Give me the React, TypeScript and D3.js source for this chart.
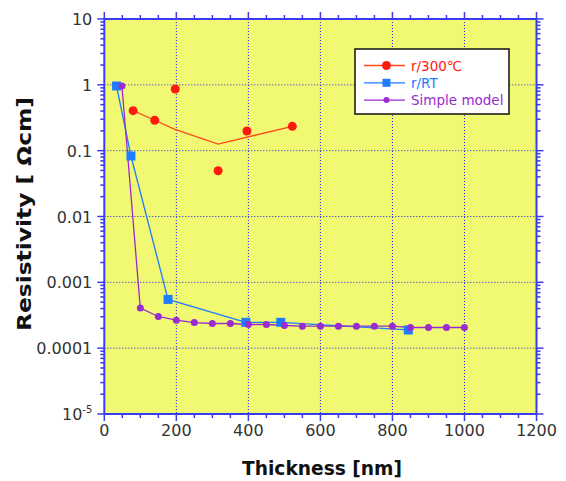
import React from "react";
import * as d3 from "d3";

const redPoints: [number, number][] = [
  [80, 0.405], [140, 0.29], [197, 0.865], [316, 0.0496], [396, 0.199], [522, 0.234],
];
const redFit: [number, number][] = [
  [80, 0.405], [140, 0.29], [196, 0.211], [316, 0.126], [522, 0.234],
];
const bluePoints: [number, number][] = [
  [34, 0.96], [74, 0.083], [177, 0.00055], [393, 0.000247], [490, 0.000247], [844, 0.000189],
];
const purplePoints: [number, number][] = [
  [49, 0.96], [100, 0.000406], [150, 0.000303], [200, 0.000266], [250, 0.000245],
  [300, 0.000237], [350, 0.000237], [400, 0.000229], [450, 0.000229], [500, 0.000221],
  [550, 0.000216], [600, 0.000216], [650, 0.000216], [700, 0.000216], [750, 0.000216],
  [800, 0.000216], [850, 0.000206], [900, 0.000206], [950, 0.000206], [1000, 0.000206],
];
const xTicks = [0, 200, 400, 600, 800, 1000, 1200];
const yTicks = [10, 1, 0.1, 0.01, 0.001, 0.0001, 0.00001];
const yTickLabels = ["10", "1", "0.1", "0.01", "0.001", "0.0001", "10^-5"];
const legendLabels = ["r/300\u2103", "r/RT", "Simple model"];

const W = 566, H = 481;
const L = 104.3, R = 536.5, T = 19, B = 414;
const AX = "#3a3af0";
const RED = "#ff1a10";
const REDLINE = "#ff4a1a";
const BLUE = "#1f7cff";
const PURPLE = "#9a2bd0";
const FONT = "DejaVu Sans, sans-serif";

export default function App() {
  const x = d3.scaleLinear().domain([0, 1200]).range([L, R]);
  const y = d3.scaleLog().domain([1e-5, 10]).range([B, T]);
  const line = d3.line<[number, number]>().x(d => x(d[0])).y(d => y(d[1]));

  const xMinor = d3.range(0, 1201, 50);
  const yMinor: number[] = [];
  for (let e = -5; e < 1; e++) for (let m = 2; m <= 9; m++) yMinor.push(m * Math.pow(10, e));

  return (
    <svg width={W} height={H} style={{ position: "absolute", left: 0, top: 0, background: "#fff" }}>
      <rect x={L} y={T} width={R - L} height={B - T} fill="#f1f973" />
      {/* grid */}
      {xTicks.slice(1, -1).map(v => (
        <line key={"gx" + v} x1={x(v)} x2={x(v)} y1={T} y2={B} stroke="#2020e0" strokeWidth={1} strokeDasharray="1,2" />
      ))}
      {yTicks.slice(1, -1).map(v => (
        <line key={"gy" + v} x1={L} x2={R} y1={y(v)} y2={y(v)} stroke="#2020e0" strokeWidth={1} strokeDasharray="1,2" />
      ))}
      {/* ticks */}
      {xMinor.map(v => {
        const major = v % 200 === 0;
        const len = major ? 7 : 4;
        return (
          <g key={"xt" + v}>
            <line x1={x(v)} x2={x(v)} y1={B} y2={B + len} stroke={AX} strokeWidth={1.5} />
            <line x1={x(v)} x2={x(v)} y1={T} y2={T - len} stroke={AX} strokeWidth={1.5} />
          </g>
        );
      })}
      {yMinor.map((v, i) => (
        <g key={"ym" + i}>
          <line x1={L} x2={L - 4} y1={y(v)} y2={y(v)} stroke={AX} strokeWidth={1.5} />
          <line x1={R} x2={R + 4} y1={y(v)} y2={y(v)} stroke={AX} strokeWidth={1.5} />
        </g>
      ))}
      {yTicks.map(v => (
        <g key={"yM" + v}>
          <line x1={L} x2={L - 7} y1={y(v)} y2={y(v)} stroke={AX} strokeWidth={1.5} />
          <line x1={R} x2={R + 7} y1={y(v)} y2={y(v)} stroke={AX} strokeWidth={1.5} />
        </g>
      ))}
      <rect x={L} y={T} width={R - L} height={B - T} fill="none" stroke={AX} strokeWidth={2} />
      {/* tick labels */}
      {xTicks.map(v => (
        <text key={"xl" + v} x={x(v)} y={B + 22} textAnchor="middle" fontFamily={FONT} fontSize={16} fill="#333">{v}</text>
      ))}
      {yTicks.map((v, i) => {
        const lab = yTickLabels[i];
        if (lab.includes("^")) {
          const [base, exp] = lab.split("^");
          return (
            <text key={"yl" + v} x={L - 12} y={y(v) + 6} textAnchor="end" fontFamily={FONT} fontSize={16} fill="#333">
              {base}<tspan dy={-7} fontSize={10}>{exp}</tspan>
            </text>
          );
        }
        return (
          <text key={"yl" + v} x={L - 12} y={y(v) + 6} textAnchor="end" fontFamily={FONT} fontSize={16} fill="#333">{lab}</text>
        );
      })}
      {/* axis titles */}
      <text x={322} y={475} textAnchor="middle" fontFamily="DejaVu Sans, sans-serif" fontWeight="bold" fontSize={19} fill="#111" textLength={160} lengthAdjust="spacingAndGlyphs">Thickness [nm]</text>
      <text transform={`translate(31,${214}) rotate(-90)`} textAnchor="middle" fontFamily="DejaVu Sans, sans-serif" fontWeight="bold" fontSize={20} fill="#111" textLength={234} lengthAdjust="spacingAndGlyphs">Resistivity [ Ωcm]</text>
      {/* series */}
      <path d={line(redFit) || ""} fill="none" stroke={REDLINE} strokeWidth={1.3} />
      <path d={line(bluePoints) || ""} fill="none" stroke={BLUE} strokeWidth={1.3} />
      <path d={line(purplePoints) || ""} fill="none" stroke={PURPLE} strokeWidth={1.3} />
      {redPoints.map((d, i) => <circle key={"r" + i} cx={x(d[0])} cy={y(d[1])} r={4.5} fill={RED} />)}
      {bluePoints.map((d, i) => <rect key={"b" + i} x={x(d[0]) - 4.5} y={y(d[1]) - 4.5} width={9} height={9} fill={BLUE} />)}
      {purplePoints.map((d, i) => <circle key={"p" + i} cx={x(d[0])} cy={y(d[1])} r={3.5} fill={PURPLE} />)}
      {/* legend */}
      <rect x={355} y={49} width={154} height={65} fill="#fff" stroke="#111" strokeWidth={1.5} />
      {legendLabels.map((lab, i) => {
        const cy = 65.5 + i * 17.3;
        const col = [RED, BLUE, PURPLE][i];
        const lc = [REDLINE, BLUE, PURPLE][i];
        return (
          <g key={"lg" + i}>
            <line x1={364} x2={405} y1={cy} y2={cy} stroke={lc} strokeWidth={1.3} />
            {i === 0 && <circle cx={386.5} cy={cy} r={4.5} fill={col} />}
            {i === 1 && <rect x={382.5} y={cy - 4} width={8} height={8} fill={col} />}
            {i === 2 && <circle cx={386.5} cy={cy} r={3} fill={col} />}
            <text x={411} y={cy + 5} fontFamily={FONT} fontSize={13.5} fill={col}>{lab}</text>
          </g>
        );
      })}
    </svg>
  );
}
